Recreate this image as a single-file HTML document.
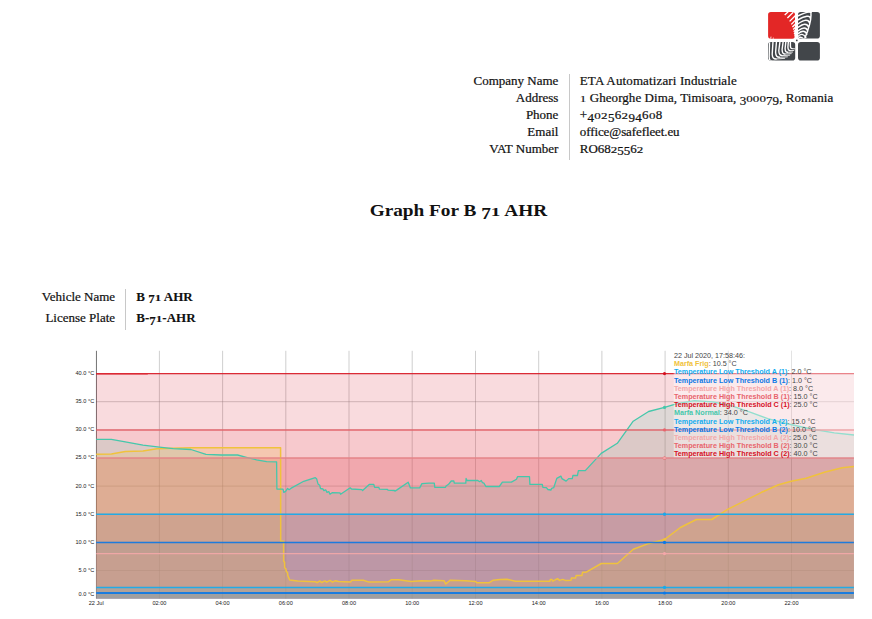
<!DOCTYPE html>
<html><head><meta charset="utf-8"><title>Graph For B 71 AHR</title>
<style>
html,body{margin:0;padding:0;background:#fff;}
body{width:872px;height:619px;position:relative;overflow:hidden;font-family:"Liberation Serif",serif;color:#111;}
.chart{position:absolute;left:0;top:0;}
.logo{position:absolute;left:764px;top:8px;}
.t{position:absolute;white-space:nowrap;font-size:13px;line-height:17px;height:17px;-webkit-text-stroke:0.22px #111;}
.b{-webkit-text-stroke:0.1px #111;}
.r{text-align:right;}
.b{font-weight:bold;}
.dx{display:inline-block;transform:scaleY(0.69);transform-origin:50% 75.5%;}
.dd{position:relative;top:0.19em;}
.sep{position:absolute;width:1px;background:#c8c8c8;}
.title{position:absolute;left:0;width:872px;top:200px;text-align:center;font-weight:bold;font-size:16.6px;line-height:22px;white-space:nowrap;}
.title>span{display:inline-block;transform:scaleX(1.162);transform-origin:50% 50%;position:relative;left:22.7px;}
</style></head><body>
<svg class="logo" width="60" height="56" viewBox="764 8 60 56">
<defs>
<clipPath id="ctr"><rect x="798" y="12" width="21.9" height="26.5" rx="2.8"/></clipPath>
<clipPath id="cbl"><rect x="768.1" y="41.9" width="27.1" height="18.6" rx="2.8"/></clipPath>
<clipPath id="crd"><rect x="768.1" y="12" width="26.9" height="26.8" rx="2.8"/></clipPath>
</defs>
<rect x="768.1" y="12" width="26.9" height="26.8" rx="2.8" fill="#e32726"/>
<g clip-path="url(#crd)"><path d="M784.7 15L788.2 11.8M787.4 18.1L793.4 12.1M789.6 21.4L795.8 15.1M791.3 24.4L795.8 19.8M792.4 27.1L795.8 23.7M793.2 29.6L795.8 27M793.7 31.8L795.8 29.7M794 33.7L795.8 31.9M794.3 35.6L795.8 34.1M794.5 37.4L795.8 36.1" stroke="#fff" stroke-width="1.35" fill="none"/>
<path d="M770.5 40L771 36.6M773 40L773.4 37.6" stroke="#fff" stroke-width="0.8" fill="none"/></g>
<rect x="798" y="12" width="21.9" height="26.5" rx="2.8" fill="#42464a"/>
<g clip-path="url(#ctr)"><path d="M797.5 16.1Q808.25 10.85 811.2 12.6M797.5 20.1Q809.65 13.40 810.4 18.3M797.5 24.1Q807.85 17.00 809.6 23.1M797.5 27.8Q806.30 21.05 808.7 27.3M797.5 31.3Q805.55 24.85 807.8 31.0M797.5 34.2Q804.00 28.20 806.9 34.2M797.5 36.9Q802.35 31.65 805.8 37.4M797.5 39.3Q800.15 34.95 804.6 40.0M810.6 11.5Q812.6 20 804.3 39.5" stroke="#fff" stroke-width="1.45" fill="none" stroke-linecap="round"/></g>
<rect x="768.1" y="41.9" width="27.1" height="18.6" rx="2.8" fill="#42464a"/>
<g clip-path="url(#cbl)"><path d="M790.4 41.3L790.4 46.0C790.50 47.95 791.13 48.70 792.5 48.6M788.4 41.3L787.9 47.0C788.00 49.70 788.81 50.70 790.5 50.6M785.9 41.3L785.1 48.5C785.20 51.35 786.12 52.40 788.0 52.3M783.2 41.3L782.1 49.5C782.20 52.88 783.22 54.10 785.3 54.0M780.0 41.3L778.8 50.5C778.90 54.33 780.10 55.70 782.5 55.6M776.5 41.3L775.6 52.3C775.70 56.05 777.07 57.40 779.8 57.3M773.0 41.3L772.2 54.3C772.30 57.83 773.71 59.10 776.5 59.0M769.5 41.3L769.2 57.0C769.30 60.00 770.18 61.10 772.0 61.0" stroke="#fff" stroke-width="1.4" fill="none" stroke-linejoin="round"/><path d="M792.2 48.6L795.0 48.85M790.2 50.6L793.8 50.449999999999996M787.7 52.3L792.5 52.05M785.0 54.0L791.2 53.65M782.2 55.6L789.7 55.15M779.5 57.3L787.4 56.85M776.2 59.0L784.7 58.35M771.7 61.0L775.0 61.15" stroke="#fff" stroke-width="0.85" fill="none" stroke-linecap="round"/></g>
<rect x="798" y="41.9" width="21.9" height="18.6" rx="2.8" fill="#42464a"/>
<circle cx="796.8" cy="40.4" r="0.9" fill="#42464a"/>
</svg>
<div class="t r" style="left:400px;width:158.4px;top:72.4px" id="h1">Company Name</div>
<div class="t r" style="left:400px;width:158.4px;top:89.3px">Address</div>
<div class="t r" style="left:400px;width:158.4px;top:106.2px">Phone</div>
<div class="t r" style="left:400px;width:158.4px;top:123.1px">Email</div>
<div class="t r" style="left:400px;width:158.4px;top:140px">VAT Number</div>
<div class="sep" style="left:568.8px;top:74.3px;height:86px"></div>
<div class="t" style="left:579.8px;top:72.4px;letter-spacing:0.13px" id="v1">ETA Automatizari Industriale</div>
<div class="t" style="left:579.8px;top:89.3px;letter-spacing:0.07px" id="v2"><span class="dx">1</span> Gheorghe Dima, Timisoara, <span class="dd">3</span><span class="dx">0</span><span class="dx">0</span><span class="dx">0</span><span class="dd">7</span><span class="dd">9</span>, Romania</div>
<div class="t" style="left:579.8px;top:106.2px;letter-spacing:0.32px" id="v3">+<span class="dd">4</span><span class="dx">0</span><span class="dx">2</span><span class="dd">5</span>6<span class="dx">2</span><span class="dd">9</span><span class="dd">4</span>6<span class="dx">0</span>8</div>
<div class="t" style="left:579.8px;top:123.1px;letter-spacing:-0.1px" id="v4">office@safefleet.eu</div>
<div class="t" style="left:579.8px;top:140px" id="v5">RO68<span class="dx">2</span><span class="dd">5</span><span class="dd">5</span>6<span class="dx">2</span></div>
<div class="title"><span id="ttl">Graph For B <span class="dd">7</span><span class="dx">1</span> AHR</span></div>
<div class="t r" style="left:0;width:115.1px;top:287.8px" id="l1">Vehicle Name</div>
<div class="t r" style="left:0;width:115.1px;top:309.1px" id="l2">License Plate</div>
<div class="sep" style="left:125px;top:288.7px;height:41.5px"></div>
<div class="t b" style="left:136.3px;top:287.8px" id="b1">B <span class="dd">7</span><span class="dx">1</span> AHR</div>
<div class="t b" style="left:136.3px;top:309.1px" id="b2">B-<span class="dd">7</span><span class="dx">1</span>-AHR</div>
<svg class="chart" width="872" height="619" viewBox="0 0 872 619">
<path d="M159.4 350.8V598.4M222.6 350.8V598.4M285.8 350.8V598.4M349.0 350.8V598.4M412.2 350.8V598.4M475.5 350.8V598.4M538.7 350.8V598.4M601.9 350.8V598.4M665.1 350.8V598.4M728.3 350.8V598.4M791.5 350.8V598.4M96.2 570.5H853.9M96.2 542.4H853.9M96.2 514.2H853.9M96.2 486.1H853.9M96.2 458.0H853.9M96.2 429.9H853.9M96.2 401.7H853.9M96.2 373.6H853.9" stroke="#808080" stroke-opacity="0.55" stroke-width="0.7" fill="none"/>
<path d="M96.45 350.8V598.4" stroke="#000" stroke-opacity="0.62" stroke-width="0.9" fill="none"/>
<rect x="96.2" y="373.6" width="757.7" height="225.0" fill="#d6101f" fill-opacity="0.15"/>
<rect x="96.2" y="429.9" width="757.7" height="168.8" fill="#e8646c" fill-opacity="0.15"/>
<rect x="96.2" y="458.0" width="757.7" height="140.6" fill="#f4a7a9" fill-opacity="0.15"/>
<rect x="96.2" y="542.4" width="757.7" height="56.2" fill="#0b78e6" fill-opacity="0.15"/>
<rect x="96.2" y="514.2" width="757.7" height="84.4" fill="#12acf0" fill-opacity="0.15"/>
<polygon points="96.2,439.4 111.4,439.4 125.3,441.9 143.0,445.2 159.4,447.2 173.2,448.7 190.9,449.5 206.0,454.3 221.2,455.0 237.6,455.0 246.4,457.3 256.5,459.8 266.6,461.6 276.6,461.9 276.9,489.1 283.0,489.1 283.8,492.3 285.6,491.4 287.6,488.4 289.1,489.7 290.8,488.4 303.7,481.3 315.3,477.7 316.6,478.7 318.0,483.9 319.7,485.2 320.5,488.5 323.0,489.0 323.9,490.6 325.7,489.8 327.0,492.4 328.8,491.6 330.0,494.2 332.1,492.7 339.9,492.9 340.6,494.2 350.2,487.8 351.5,489.0 361.8,489.6 362.6,490.5 369.5,484.3 373.8,484.3 374.6,487.4 378.9,487.4 379.4,489.1 387.5,489.4 388.0,490.1 394.4,490.5 394.9,491.1 397.0,489.9 408.2,482.2 408.7,483.6 410.4,487.9 419.7,487.9 421.9,483.6 428.8,483.1 434.3,483.1 434.8,487.4 445.5,487.4 446.0,486.0 448.6,484.3 451.2,481.0 453.8,481.0 454.3,483.2 465.8,483.2 466.1,478.4 467.0,480.5 477.8,480.5 479.6,481.7 481.3,480.5 482.5,482.7 483.9,483.1 485.9,486.5 499.3,486.5 502.4,482.2 511.4,482.1 516.5,479.2 517.5,476.7 529.5,476.7 529.9,484.4 542.3,484.4 542.9,487.3 546.4,487.7 547.9,489.5 551.0,490.0 551.6,488.3 553.7,487.7 556.8,478.4 560.9,476.1 561.9,478.6 566.1,481.1 568.7,478.6 572.3,478.6 572.9,475.5 577.4,475.5 578.4,470.6 585.3,470.6 601.2,453.4 617.3,443.3 633.2,421.2 648.6,411.5 664.5,407.4 677.2,403.6 694.4,400.6 712.8,401.9 731.1,405.6 749.4,411.8 767.8,418.7 788.4,424.0 811.4,429.0 834.3,432.9 853.9,435.0 853.9,598.6 96.2,598.6" fill="#45c7ab" fill-opacity="0.15"/>
<rect x="96.2" y="458.0" width="757.7" height="140.6" fill="#d6101f" fill-opacity="0.15"/>
<rect x="96.2" y="514.2" width="757.7" height="84.4" fill="#e8646c" fill-opacity="0.15"/>
<rect x="96.2" y="553.6" width="757.7" height="45.0" fill="#f4a7a9" fill-opacity="0.15"/>
<rect x="96.2" y="593.0" width="757.7" height="5.6" fill="#0b78e6" fill-opacity="0.15"/>
<rect x="96.2" y="587.4" width="757.7" height="11.2" fill="#12acf0" fill-opacity="0.15"/>
<polygon points="96.2,454.3 111.4,454.0 125.3,451.5 143.0,451.0 156.9,448.7 173.0,448.2 191.0,447.7 280.6,447.7 280.7,541.3 283.6,541.3 283.7,561.3 284.6,562.0 284.7,567.7 285.9,568.8 286.3,571.6 287.5,572.3 287.8,575.5 289.7,580.0 297.7,580.9 315.3,581.7 317.1,582.7 319.9,580.9 321.6,582.5 324.9,580.9 326.7,582.2 330.0,580.4 332.5,582.2 335.5,580.7 338.5,581.4 350.6,581.9 351.9,580.2 363.3,580.2 368.3,581.9 388.5,581.7 391.5,579.7 398.6,579.7 411.2,581.4 421.3,580.7 431.4,580.9 433.9,580.2 444.0,580.7 445.7,584.0 450.3,580.2 465.4,580.7 475.5,581.4 476.8,582.7 489.4,582.7 493.2,580.2 500.0,579.4 507.0,579.3 515.5,581.2 549.9,581.2 550.3,579.6 552.0,579.6 552.8,581.2 557.5,578.7 559.6,580.4 562.7,579.4 565.8,580.6 571.0,580.2 571.4,578.1 575.5,578.1 576.1,575.6 581.9,575.6 582.5,572.3 585.8,572.3 601.3,563.5 617.4,563.5 633.3,549.2 649.0,543.4 664.5,539.5 680.4,527.5 696.3,519.5 711.8,519.5 727.6,509.3 744.6,500.8 761.5,492.3 778.5,484.7 791.2,481.3 806.1,478.3 825.2,472.0 842.2,467.7 853.9,466.5 853.9,598.6 96.2,598.6" fill="#f0c23c" fill-opacity="0.2"/>
<polyline points="96.2,454.3 111.4,454.0 125.3,451.5 143.0,451.0 156.9,448.7 173.0,448.2 191.0,447.7 280.6,447.7 280.7,541.3 283.6,541.3 283.7,561.3 284.6,562.0 284.7,567.7 285.9,568.8 286.3,571.6 287.5,572.3 287.8,575.5 289.7,580.0 297.7,580.9 315.3,581.7 317.1,582.7 319.9,580.9 321.6,582.5 324.9,580.9 326.7,582.2 330.0,580.4 332.5,582.2 335.5,580.7 338.5,581.4 350.6,581.9 351.9,580.2 363.3,580.2 368.3,581.9 388.5,581.7 391.5,579.7 398.6,579.7 411.2,581.4 421.3,580.7 431.4,580.9 433.9,580.2 444.0,580.7 445.7,584.0 450.3,580.2 465.4,580.7 475.5,581.4 476.8,582.7 489.4,582.7 493.2,580.2 500.0,579.4 507.0,579.3 515.5,581.2 549.9,581.2 550.3,579.6 552.0,579.6 552.8,581.2 557.5,578.7 559.6,580.4 562.7,579.4 565.8,580.6 571.0,580.2 571.4,578.1 575.5,578.1 576.1,575.6 581.9,575.6 582.5,572.3 585.8,572.3 601.3,563.5 617.4,563.5 633.3,549.2 649.0,543.4 664.5,539.5 680.4,527.5 696.3,519.5 711.8,519.5 727.6,509.3 744.6,500.8 761.5,492.3 778.5,484.7 791.2,481.3 806.1,478.3 825.2,472.0 842.2,467.7 853.9,466.5" fill="none" stroke="#f0c23c" stroke-width="1.5" stroke-linejoin="round"/>
<path d="M96.2 587.4H853.9" stroke="#12acf0" stroke-width="1.45" stroke-opacity="0.9" fill="none"/>
<path d="M96.2 593.0H853.9" stroke="#0b78e6" stroke-width="2.0" stroke-opacity="0.9" fill="none"/>
<path d="M96.2 553.6H853.9" stroke="#f4a7a9" stroke-width="1.45" stroke-opacity="0.9" fill="none"/>
<polyline points="96.2,439.4 111.4,439.4 125.3,441.9 143.0,445.2 159.4,447.2 173.2,448.7 190.9,449.5 206.0,454.3 221.2,455.0 237.6,455.0 246.4,457.3 256.5,459.8 266.6,461.6 276.6,461.9 276.9,489.1 283.0,489.1 283.8,492.3 285.6,491.4 287.6,488.4 289.1,489.7 290.8,488.4 303.7,481.3 315.3,477.7 316.6,478.7 318.0,483.9 319.7,485.2 320.5,488.5 323.0,489.0 323.9,490.6 325.7,489.8 327.0,492.4 328.8,491.6 330.0,494.2 332.1,492.7 339.9,492.9 340.6,494.2 350.2,487.8 351.5,489.0 361.8,489.6 362.6,490.5 369.5,484.3 373.8,484.3 374.6,487.4 378.9,487.4 379.4,489.1 387.5,489.4 388.0,490.1 394.4,490.5 394.9,491.1 397.0,489.9 408.2,482.2 408.7,483.6 410.4,487.9 419.7,487.9 421.9,483.6 428.8,483.1 434.3,483.1 434.8,487.4 445.5,487.4 446.0,486.0 448.6,484.3 451.2,481.0 453.8,481.0 454.3,483.2 465.8,483.2 466.1,478.4 467.0,480.5 477.8,480.5 479.6,481.7 481.3,480.5 482.5,482.7 483.9,483.1 485.9,486.5 499.3,486.5 502.4,482.2 511.4,482.1 516.5,479.2 517.5,476.7 529.5,476.7 529.9,484.4 542.3,484.4 542.9,487.3 546.4,487.7 547.9,489.5 551.0,490.0 551.6,488.3 553.7,487.7 556.8,478.4 560.9,476.1 561.9,478.6 566.1,481.1 568.7,478.6 572.3,478.6 572.9,475.5 577.4,475.5 578.4,470.6 585.3,470.6 601.2,453.4 617.3,443.3 633.2,421.2 648.6,411.5 664.5,407.4 677.2,403.6 694.4,400.6 712.8,401.9 731.1,405.6 749.4,411.8 767.8,418.7 788.4,424.0 811.4,429.0 834.3,432.9 853.9,435.0" fill="none" stroke="#45c7ab" stroke-width="1.3" stroke-linejoin="round"/>
<path d="M96.2 514.2H853.9" stroke="#12acf0" stroke-width="1.45" stroke-opacity="0.9" fill="none"/>
<path d="M96.2 542.4H853.9" stroke="#0b78e6" stroke-width="1.45" stroke-opacity="0.9" fill="none"/>
<path d="M96.2 458.0H853.9" stroke="#ea858b" stroke-width="1.45" stroke-opacity="0.9" fill="none"/>
<path d="M96.2 429.9H853.9" stroke="#e8646c" stroke-width="1.45" stroke-opacity="0.9" fill="none"/>
<path d="M96.2 374.3H147.8" stroke="#dc1a26" stroke-width="0.7" stroke-opacity="0.8" fill="none"/>
<path d="M96.2 373.6H853.9" stroke="#dc1a26" stroke-width="1.45" stroke-opacity="0.9" fill="none"/>
<circle cx="664.5" cy="539.5" r="1.6" fill="#f0c23c"/>
<circle cx="664.5" cy="587.4" r="1.6" fill="#12acf0"/>
<circle cx="664.5" cy="593.0" r="1.6" fill="#0b78e6"/>
<circle cx="664.5" cy="553.6" r="1.6" fill="#f4a7a9"/>
<circle cx="664.5" cy="514.2" r="1.6" fill="#e8646c"/>
<circle cx="664.5" cy="458.0" r="1.6" fill="#d6101f"/>
<circle cx="664.5" cy="407.4" r="1.6" fill="#45c7ab"/>
<circle cx="664.5" cy="514.2" r="1.6" fill="#12acf0"/>
<circle cx="664.5" cy="542.4" r="1.6" fill="#0b78e6"/>
<circle cx="664.5" cy="458.0" r="1.6" fill="#f4a7a9"/>
<circle cx="664.5" cy="429.9" r="1.6" fill="#e8646c"/>
<circle cx="664.5" cy="373.6" r="1.6" fill="#d6101f"/>
<g font-family="Liberation Sans, sans-serif" font-size="5.6" fill="#222">
<text x="94.2" y="596.2" text-anchor="end">0.0 °C</text>
<text x="94.2" y="571.9" text-anchor="end">5.0 °C</text>
<text x="94.2" y="543.8" text-anchor="end">10.0 °C</text>
<text x="94.2" y="515.6" text-anchor="end">15.0 °C</text>
<text x="94.2" y="487.5" text-anchor="end">20.0 °C</text>
<text x="94.2" y="459.4" text-anchor="end">25.0 °C</text>
<text x="94.2" y="431.2" text-anchor="end">30.0 °C</text>
<text x="94.2" y="403.1" text-anchor="end">35.0 °C</text>
<text x="94.2" y="375.0" text-anchor="end">40.0 °C</text>
<text x="96.2" y="605.3" text-anchor="middle">22 Jul</text>
<text x="159.4" y="605.3" text-anchor="middle">02:00</text>
<text x="222.6" y="605.3" text-anchor="middle">04:00</text>
<text x="285.8" y="605.3" text-anchor="middle">06:00</text>
<text x="349.0" y="605.3" text-anchor="middle">08:00</text>
<text x="412.2" y="605.3" text-anchor="middle">10:00</text>
<text x="475.5" y="605.3" text-anchor="middle">12:00</text>
<text x="538.7" y="605.3" text-anchor="middle">14:00</text>
<text x="601.9" y="605.3" text-anchor="middle">16:00</text>
<text x="665.1" y="605.3" text-anchor="middle">18:00</text>
<text x="728.3" y="605.3" text-anchor="middle">20:00</text>
<text x="791.5" y="605.3" text-anchor="middle">22:00</text>
</g>
<rect x="673.7" y="350.8" width="180.2" height="106.4" fill="#fff" fill-opacity="0.42"/>
<g font-family="Liberation Sans, sans-serif" font-size="7.2" fill="#444">
<text x="673.9000000000001" y="357.9">22 Jul 2020, 17:58:46:</text>
<text x="673.9000000000001" y="366.1"><tspan font-weight="bold" fill="#f0c23c">Marfa Frig</tspan>: 10.5 °C</text>
<text x="673.9000000000001" y="374.3"><tspan font-weight="bold" fill="#12acf0">Temperature Low Threshold A (1)</tspan>: 2.0 °C</text>
<text x="673.9000000000001" y="382.5"><tspan font-weight="bold" fill="#0b78e6">Temperature Low Threshold B (1)</tspan>: 1.0 °C</text>
<text x="673.9000000000001" y="390.7"><tspan font-weight="bold" fill="#f4a7a9">Temperature High Threshold A (1)</tspan>: 8.0 °C</text>
<text x="673.9000000000001" y="398.9"><tspan font-weight="bold" fill="#e8646c">Temperature High Threshold B (1)</tspan>: 15.0 °C</text>
<text x="673.9000000000001" y="407.1"><tspan font-weight="bold" fill="#d6101f">Temperature High Threshold C (1)</tspan>: 25.0 °C</text>
<text x="673.9000000000001" y="415.3"><tspan font-weight="bold" fill="#45c7ab">Marfa Normal</tspan>: 34.0 °C</text>
<text x="673.9000000000001" y="423.5"><tspan font-weight="bold" fill="#12acf0">Temperature Low Threshold A (2)</tspan>: 15.0 °C</text>
<text x="673.9000000000001" y="431.7"><tspan font-weight="bold" fill="#0b78e6">Temperature Low Threshold B (2)</tspan>: 10.0 °C</text>
<text x="673.9000000000001" y="439.9"><tspan font-weight="bold" fill="#f4a7a9">Temperature High Threshold A (2)</tspan>: 25.0 °C</text>
<text x="673.9000000000001" y="448.1"><tspan font-weight="bold" fill="#e8646c">Temperature High Threshold B (2)</tspan>: 30.0 °C</text>
<text x="673.9000000000001" y="456.3"><tspan font-weight="bold" fill="#d6101f">Temperature High Threshold C (2)</tspan>: 40.0 °C</text>
</g>
</svg>
</body></html>
